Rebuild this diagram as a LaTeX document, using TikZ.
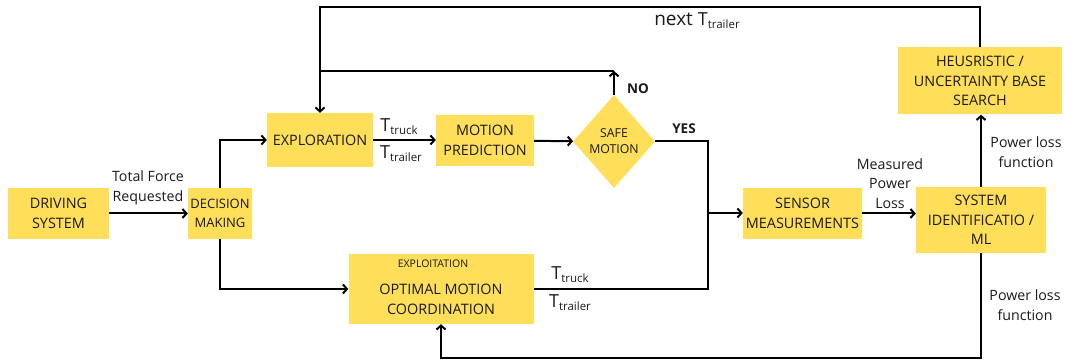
\documentclass[tikz,border=0pt]{standalone}
\usepackage{fontspec}
\setmainfont{Open Sans}
\usetikzlibrary{arrows.meta,positioning,shapes.geometric}
\definecolor{NoteYellow}{HTML}{FFDE59}
\definecolor{NoteInk}{HTML}{1A1A1A}
\newcommand{\torque}[1]{{\fontsize{18}{18}\selectfont T}{\fontsize{11.5}{11.5}\selectfont\raisebox{-3pt}{#1}}}
\tikzset{
  flowarrow/.style={-{Straight Barb[length=4pt,width=9pt]},line width=2pt,draw=black},
  flowline/.style={line width=2pt,draw=black},
  block/.style={fill=NoteYellow,align=center,inner sep=2pt,text=NoteInk,font=\fontsize{14.4}{19.5}\selectfont},
  decision/.style={diamond,fill=NoteYellow,align=center,inner sep=0pt,text=NoteInk,font=\fontsize{12.3}{16}\selectfont},
  lbl/.style={align=center,text=NoteInk,font=\fontsize{14.2}{19.5}\selectfont},
  answer/.style={text=NoteInk,font=\fontsize{13.5}{15}\selectfont\bfseries}
}
\begin{document}
\begin{tikzpicture}[x=1pt,y=-1pt]
  \useasboundingbox (0,0) rectangle (1065,363);
  % Input side.
  \node[block,minimum width=101pt,minimum height=51pt] (driving) at (58.5,213.5) {DRIVING\\SYSTEM};
  \node[block,inner sep=0pt,minimum width=64pt,minimum height=51pt,font=\fontsize{13}{19.5}\selectfont] (decision) at (220,213.5) {DECISION\\MAKING};

  % Exploration branch.
  \node[block,minimum width=106pt,minimum height=54pt] (explore) at (320,140) {EXPLORATION};
  \node[block,minimum width=98pt,minimum height=51pt] (motion) at (485,140.5) {MOTION\\PREDICTION};
  \node[decision,minimum width=82pt,minimum height=93pt] (safe) at (614,141.5) {SAFE\\MOTION};

  % Exploitation branch.
  \node[block,minimum width=185pt,minimum height=70pt] (optimal) at (441,289) {};
  \node[lbl,font=\fontsize{10.5}{12}\selectfont] (exploit) at (433,264) {EXPLOITATION};
  \node[block,inner sep=0pt] (optimaltext) at (441,299.5) {OPTIMAL MOTION\\COORDINATION};

  % Measurement and learning.
  \node[block,minimum width=119pt,minimum height=51pt] (sensor) at (802.5,213.5) {SENSOR\\MEASUREMENTS};
  \node[block,minimum width=130pt,minimum height=66pt] (sysid) at (981,220) {SYSTEM\\IDENTIFICATIO /\\ML};
  \node[block,minimum width=164pt,minimum height=67pt] (heuristic) at (980,81) {HEUSRISTIC /\\UNCERTAINTY BASE\\SEARCH};

  \coordinate (looptop) at (0,7);
  \coordinate (loopbot) at (0,358);
  \coordinate (retry) at (614,71);
  \coordinate (merge) at (708,213);

  \draw[flowarrow] (driving) -- (decision);
  \draw[flowarrow] (decision.north) |- (explore.west);
  \draw[flowarrow] (decision.south) |- (optimal.west);
  \draw[flowarrow] (explore.east) -- (explore.east -| motion.west);
  \draw[flowarrow] (motion) -- (safe);
  \draw[flowarrow] (safe.north) -- (retry);
  \draw[flowline] (retry) -- (retry -| explore.north);
  \draw[flowline] (safe.east) -| (optimal.east -| merge) -- (optimal.east);
  \draw[flowarrow] (merge) -- (merge -| sensor.west);
  \draw[flowarrow] (sensor.east) -- (sensor.east -| sysid.west);
  \draw[flowarrow] (sysid.north) -- (sysid.north |- heuristic.south);
  \draw[flowarrow] (heuristic.north) -- (heuristic.north |- looptop) -| (explore.north);
  \draw[flowarrow] (sysid.south) -- (sysid.south |- loopbot) -| (optimal.south);

  % Connector labels.
  \node[lbl] (force) at (148,188) {Total Force\\Requested};
  \node[lbl] (exptruck) at (399,127) {\torque{truck}};
  \node[lbl] (exptrailer) at (401,154) {\torque{trailer}};
  \node[lbl] (opttruck) at (570,275) {\torque{truck}};
  \node[lbl] (opttrailer) at (570,303) {\torque{trailer}};
  \node[answer] (no) at (638,89) {NO};
  \node[answer] (yes) at (684,129) {YES};
  \node[lbl] (power) at (890,183.5) {Measured\\Power\\Loss};
  \node[lbl] (lossup) at (1026,152) {Power loss\\function};
  \node[lbl] (lossdown) at (1025,305) {Power loss\\function};
  \node[lbl] (next) at (697,21) {{\fontsize{19}{19}\selectfont next }\torque{trailer}};
\end{tikzpicture}
\end{document}
